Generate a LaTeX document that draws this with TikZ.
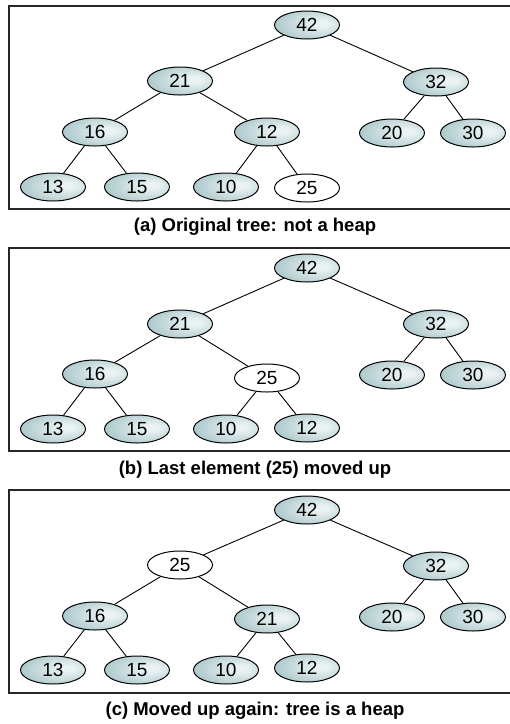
\documentclass[tikz,border=0pt]{standalone}
\usepackage{fontspec}
\setmainfont{Liberation Sans}
\usetikzlibrary{shapes.geometric}
\definecolor{hedge}{HTML}{A3C2C6}
\definecolor{hlight}{HTML}{EAF2F2}
\pgfdeclareradialshading{hnode}{\pgfpoint{12bp}{3bp}}{color(0bp)=(hlight); color(5bp)=(hlight); color(36bp)=(hedge); color(70bp)=(hedge)}
\tikzset{
  hbase/.style={ellipse, draw=black, line width=1pt, minimum width=65pt, minimum height=28pt, inner sep=0pt, font=\fontsize{19}{22}\selectfont},
  hn/.style={hbase, shading=hnode},
  hw/.style={hbase, fill=white},
  treeedge/.style={draw=black, line width=0.9pt},
  panelbox/.style={draw=black!85, line width=1.4pt},
  captext/.style={font=\fontsize{18.5}{22}\selectfont\bfseries}
}
\begin{document}
\begin{tikzpicture}[x=1pt,y=-1pt]
\useasboundingbox (0,0) rectangle (510,724);
% ---------- panel (a)
\draw[panelbox] (9,6) rectangle (520,209);
\node[hn] (a1) at (307,25) {42};
\node[hn] (a2) at (180,81) {21};
\node[hn] (a3) at (436,82) {32};
\node[hn] (a4) at (95,132) {16};
\node[hn] (a5) at (267,132) {12};
\node[hn] (a6) at (392,133) {20};
\node[hn] (a7) at (473,133) {30};
\node[hn] (a8) at (53,187) {13};
\node[hn] (a9) at (137,187) {15};
\node[hn] (a10) at (226,187) {10};
\node[hw] (a11) at (307,188) {25};
\draw[treeedge] (a1)--(a2) (a1)--(a3) (a2)--(a4) (a2)--(a5) (a3)--(a6) (a3)--(a7)
  (a4)--(a8) (a4)--(a9) (a5)--(a10) (a5)--(a11);
\node[captext] (capa) at (255,227) {(a) Original tree: not a heap};
% ---------- panel (b)
\draw[panelbox] (9,248) rectangle (520,451);
\node[hn] (b1) at (307,268) {42};
\node[hn] (b2) at (180,324) {21};
\node[hn] (b3) at (436,324) {32};
\node[hn] (b4) at (95,374) {16};
\node[hw] (b5) at (267,378) {25};
\node[hn] (b6) at (392,375) {20};
\node[hn] (b7) at (473,375) {30};
\node[hn] (b8) at (53,429) {13};
\node[hn] (b9) at (137,429) {15};
\node[hn] (b10) at (226,429) {10};
\node[hn] (b11) at (307,428) {12};
\draw[treeedge] (b1)--(b2) (b1)--(b3) (b2)--(b4) (b2)--(b5) (b3)--(b6) (b3)--(b7)
  (b4)--(b8) (b4)--(b9) (b5)--(b10) (b5)--(b11);
\node[captext] (capb) at (255,470) {(b) Last element (25) moved up};
% ---------- panel (c)
\draw[panelbox] (9,490) rectangle (520,693);
\node[hn] (c1) at (307,510) {42};
\node[hw] (c2) at (180,565) {25};
\node[hn] (c3) at (436,566) {32};
\node[hn] (c4) at (95,616) {16};
\node[hn] (c5) at (267,619) {21};
\node[hn] (c6) at (392,617) {20};
\node[hn] (c7) at (473,617) {30};
\node[hn] (c8) at (53,670) {13};
\node[hn] (c9) at (137,670) {15};
\node[hn] (c10) at (226,670) {10};
\node[hn] (c11) at (307,668) {12};
\draw[treeedge] (c1)--(c2) (c1)--(c3) (c2)--(c4) (c2)--(c5) (c3)--(c6) (c3)--(c7)
  (c4)--(c8) (c4)--(c9) (c5)--(c10) (c5)--(c11);
\node[captext] (capc) at (255,711) {(c) Moved up again: tree is a heap};
\end{tikzpicture}
\end{document}
